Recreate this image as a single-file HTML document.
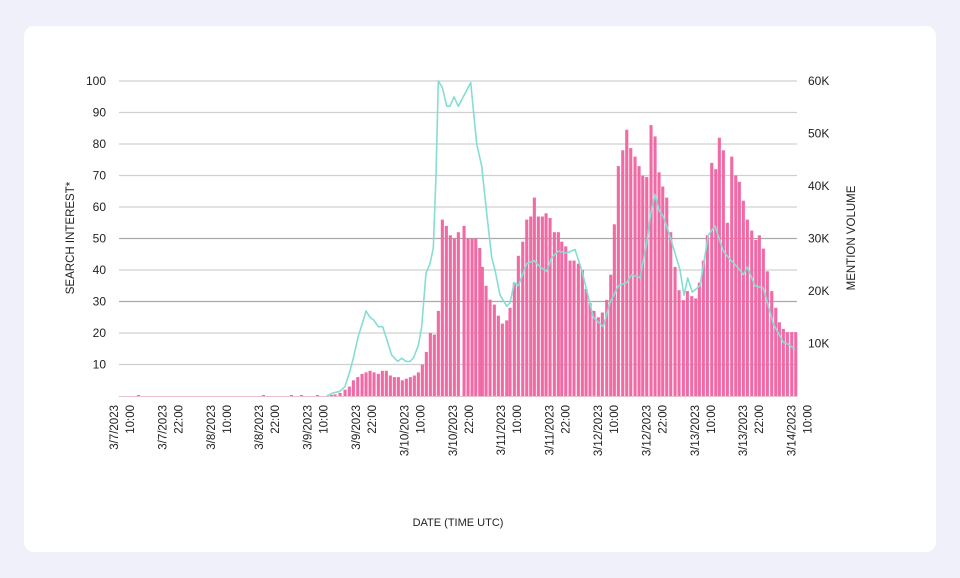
<!DOCTYPE html>
<html><head><meta charset="utf-8"><style>
html,body{margin:0;padding:0;background:#eff0fa;width:960px;height:578px;overflow:hidden}
.card{position:absolute;left:24px;top:26px;width:912px;height:526px;background:#fff;border-radius:10px}
svg{position:absolute;left:0;top:0}
text{font-family:"Liberation Sans",sans-serif;fill:#222}
</style></head><body>
<div class="card"></div>
<svg id="s" width="960" height="578" xmlns="http://www.w3.org/2000/svg"></svg>
<script>
const s=document.getElementById('s');let h='';
const Y=v=>396-v*3.15;
for(let k=1;k<=10;k++){const y=Y(k*10);h+=`<line x1="119" x2="797" y1="${y}" y2="${y}" stroke="${k==5||k==3?'#aaa':'#d0d0d0'}" stroke-width="1.2"/>`;
h+=`<text x="106" y="${y+4}" font-size="12" text-anchor="end">${k*10}</text>`;}
for(let k=1;k<=6;k++){const y=396-k*52.5;h+=`<text x="808" y="${y+4}" font-size="12">${k*10}K</text>`;}
h+=`<line x1="119" x2="797" y1="396.5" y2="396.5" stroke="#e8c0d0" stroke-width="1"/>`;
const b1=[[705,.5],[720,1],[735,2],[748,3],[760,5],[773,6],[786,7],[798,7.5],[810,8],[822,7.5],[835,7],[847,8],[859,8],[871,6.5],[883,6],[895,6],[907,5],[919,5.5],[931,6],[943,6.5],[955,7.5],[967,10],[979,14],[991,20],[1003,19.5],[1015,27],[1027,56],[1039,54],[1051,51],[1063,50],[1075,52]];
const b2=[[2,56.5],[12,54],[24,50],[36,50],[47,50],[59,47],[67,41],[78,35],[90,30.6],[103,29],[115,25.5],[127,23],[140,24],[150,28],[163,36],[175,44.5],[188,49],[200,56],[212,57],[223,63],[235,57],[247,57],[258,58],[270,56.5],[283,52],[295,52],[305,49],[317,47.5],[330,43],[342,43],[355,42],[367,40],[378,34],[390,29.5],[402,27],[415,25],[427,26.5],[440,30.5],[452,38.5],[463,54.5],[475,73],[488,78],[500,84.5],[512,78.7],[525,76],[537,73],[548,70],[560,69.5],[573,86],[585,82.4],[597,71],[608,66.5],[620,63],[632,52],[645,41],[657,33.6],[670,30.4],[682,33.3],[695,31.7],[707,31],[718,36],[730,43],[742,51],[755,74],[767,72],[778,82],[790,78],[802,55],[815,76],[827,70],[838,68],[850,62],[862,56],[875,52.5],[887,49.6],[898,51],[910,46.8],[922,39.6],[935,33.3],[947,28],[958,23.4],[970,21.3],[982,20.3],[995,20.3],[1007,20.3]];
const bars=b1.map(([z,v])=>[100+z/3,v]).concat(b2.slice(1).map(([z,v])=>[460+z/3,v]));
for(const x of [137,262,290,330,316,300]) h+=`<rect x="${x}" y="395" width="3" height="1" fill="#f06aa6"/>`;
for(const [x,v] of bars){h+=`<rect x="${(x-1.5).toFixed(1)}" y="${Y(v).toFixed(1)}" width="3.1" height="${(v*3.15).toFixed(1)}" fill="#f06aa6"/>`;}
const l1=[[680,0],[700,1],[720,1.5],[735,3],[750,8],[760,12],[775,19],[790,24],[798,27],[810,25],[822,24],[835,22],[848,22],[860,18],[875,13],[893,11],[905,12],[918,11],[930,11],[940,12],[955,16],[965,22],[978,39],[990,42],[1000,47],[1008,70],[1015,100],[1027,98],[1040,92],[1050,92],[1062,95],[1075,92]];
const l2=[[10,95],[20,97],[32,99.5],[50,80],[65,73],[80,58],[95,44],[105,40],[120,32],[140,28.5],[150,29.6],[163,36],[175,35],[200,42],[222,43],[240,41],[260,39.6],[275,44],[295,46],[320,45.4],[345,46.5],[365,40],[400,25],[430,22],[450,29.6],[475,35],[500,36],[515,38.5],[540,37.5],[560,48.6],[572,58],[585,64],[597,59],[610,57],[630,50.7],[660,40],[672,32],[683,37.5],[697,33],[720,35],[745,51],[765,54],[790,46],[810,43.4],[835,40.6],[850,38.5],[862,41],[885,35],[910,34.3],[940,23],[970,17],[985,16.4],[1005,14.8]];
const pts=l1.map(([z,v])=>[100+z/3,v]).concat(l2.map(([z,v])=>[460+z/3,v]));
h+=`<polyline fill="none" stroke="#86ddd3" stroke-width="1.6" stroke-linejoin="round" points="${pts.map(([x,v])=>x.toFixed(1)+','+Y(v).toFixed(1)).join(' ')}"/>`;
const days=['3/7','3/7','3/8','3/8','3/9','3/9','3/10','3/10','3/11','3/11','3/12','3/12','3/13','3/13','3/14'];
days.forEach((d,k)=>{const x=119+k*48.4;const t=k%2?'22:00':'10:00';
h+=`<text transform="translate(${x-1},405) rotate(-90)" font-size="11.5" text-anchor="end">${d}/2023</text>`;
h+=`<text transform="translate(${x+15},405) rotate(-90)" font-size="11.5" text-anchor="end">${t}</text>`;});
h+=`<text transform="translate(74,238) rotate(-90)" font-size="11.5" text-anchor="middle">SEARCH INTEREST*</text>`;
h+=`<text transform="translate(855,238) rotate(-90)" font-size="11.5" text-anchor="middle">MENTION VOLUME</text>`;
h+=`<text x="458" y="526" font-size="11" text-anchor="middle">DATE (TIME UTC)</text>`;
s.innerHTML=h;
</script>
</body></html>
